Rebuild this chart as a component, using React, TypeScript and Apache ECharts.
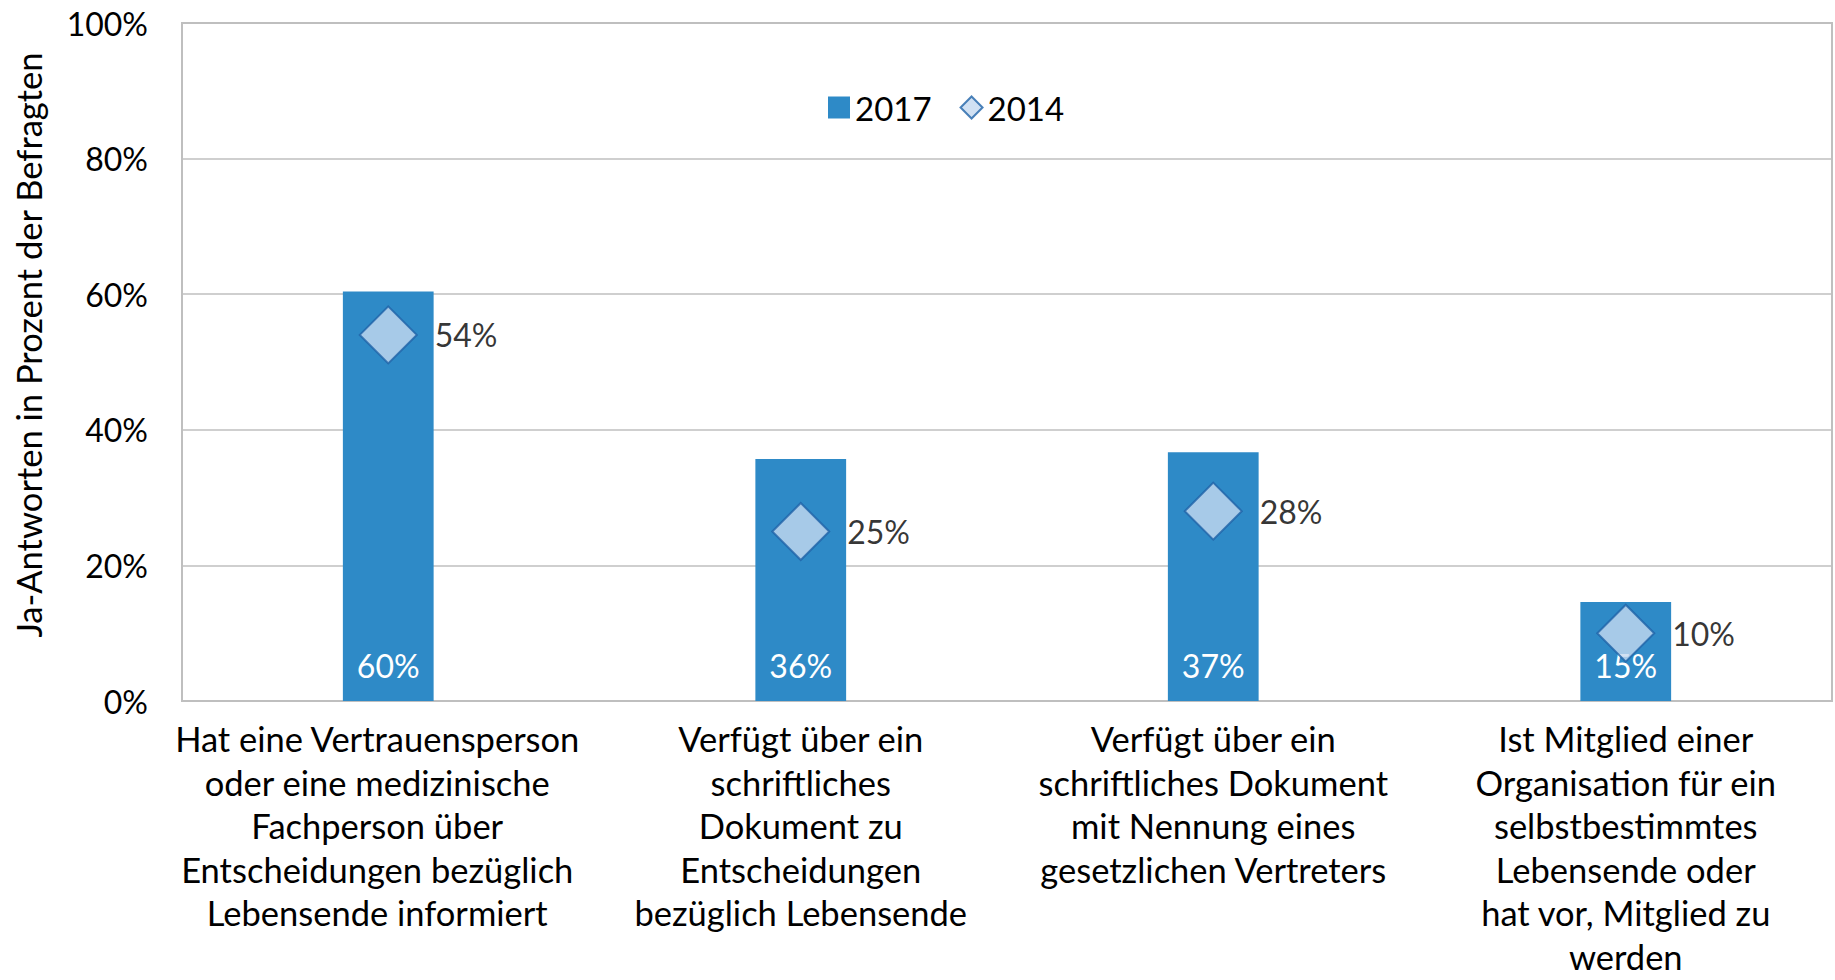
import React, { useEffect, useRef } from "react";
import * as echarts from "echarts";

const categories = [
  "Hat eine Vertrauensperson\noder eine medizinische\nFachperson über\nEntscheidungen bezüglich\nLebensende informiert",
  "Verfügt über ein\nschriftliches\nDokument zu\nEntscheidungen\nbezüglich Lebensende",
  "Verfügt über ein\nschriftliches Dokument\nmit Nennung eines\ngesetzlichen Vertreters",
  "Ist Mitglied einer\nOrganisation für ein\nselbstbestimmtes\nLebensende oder\nhat vor, Mitglied zu\nwerden",
];
const values2017 = [60.4, 35.7, 36.7, 14.6];
const values2014 = [54, 25, 28, 10];
const yTicks = [0, 20, 40, 60, 80, 100];
const yTitle = "Ja-Antworten in Prozent der Befragten";

const FONT = "Lato, 'Open Sans', sans-serif";

export default function App() {
  const ref = useRef<HTMLDivElement>(null);
  useEffect(() => {
    if (!ref.current) return;
    const chart = echarts.init(ref.current, undefined, { renderer: "svg" });
    const catData = categories.map((c, i) =>
      i === 0 ? { value: c, textStyle: { padding: [0, 22, 0, 0] } } : c
    );
    chart.setOption({
      animation: false,
      textStyle: { fontFamily: FONT, color: "#000" },
      legend: {
        left: 823,
        top: 86,
        itemGap: 28,
        itemWidth: 22,
        itemHeight: 22,
        textStyle: { fontSize: 33, fontFamily: FONT, color: "#000" },
        data: [
          { name: "2017", icon: "rect" },
          { name: "2014", icon: "diamond" },
        ],
      },
      graphic: [
        {
          type: "text",
          x: 28,
          y: 345,
          rotation: Math.PI / 2,
          style: {
            text: yTitle,
            fontSize: 34.5,
            fontFamily: FONT,
            fill: "#000",
            align: "center",
            verticalAlign: "middle",
          },
        },
      ],
      grid: {
        left: 182,
        right: 3,
        top: 23,
        bottom: 279,
        show: true,
        borderColor: "#bfbfbf",
        borderWidth: 2,
        containLabel: false,
        outerBoundsMode: "none",
      },
      xAxis: {
        type: "category",
        data: catData,
        axisLine: { lineStyle: { color: "#bfbfbf", width: 2 } },
        axisTick: { show: false },
        axisLabel: {
          fontSize: 34.5,
          lineHeight: 43.5,
          color: "#000",
          margin: 16,
          interval: 0,
          fontFamily: FONT,
        },
      },
      yAxis: {
        type: "value",
        min: 0,
        max: 100,
        interval: 20,
        axisLine: { show: true, lineStyle: { color: "#bfbfbf", width: 2 } },
        axisTick: { show: false },
        splitLine: { lineStyle: { color: "#bfbfbf", width: 1.5 } },
        axisLabel: {
          fontSize: 32,
          color: "#000",
          margin: 34,
          fontFamily: FONT,
          formatter: (v: number) => (yTicks.includes(v) ? v + "%" : ""),
        },
      },
      series: [
        {
          name: "2017",
          type: "bar",
          data: values2017,
          barWidth: "22%",
          itemStyle: { color: "#2E8AC7" },
          label: {
            show: true,
            position: "insideBottom",
            distance: 20,
            color: "#fff",
            fontSize: 32,
            fontFamily: FONT,
            formatter: (p: any) => Math.round(p.value) + "%",
          },
        },
        {
          name: "2014",
          type: "scatter",
          data: values2014,
          symbol: "diamond",
          symbolSize: 57,
          itemStyle: { color: "#C6D9F0", borderColor: "#1F63A8", borderWidth: 2 },
          label: {
            show: true,
            position: "right",
            distance: 17,
            color: "#000",
            fontSize: 32,
            fontFamily: FONT,
            formatter: (p: any) => p.value + "%",
          },
          z: 5,
        },
      ],
    });
    return () => chart.dispose();
  }, []);
  return (
    <div
      style={{
        position: "absolute",
        left: 0,
        top: 0,
        width: 1835,
        height: 980,
        overflow: "hidden",
      }}
    >
      <div ref={ref} style={{ width: 1835, height: 980 }} />
    </div>
  );
}
